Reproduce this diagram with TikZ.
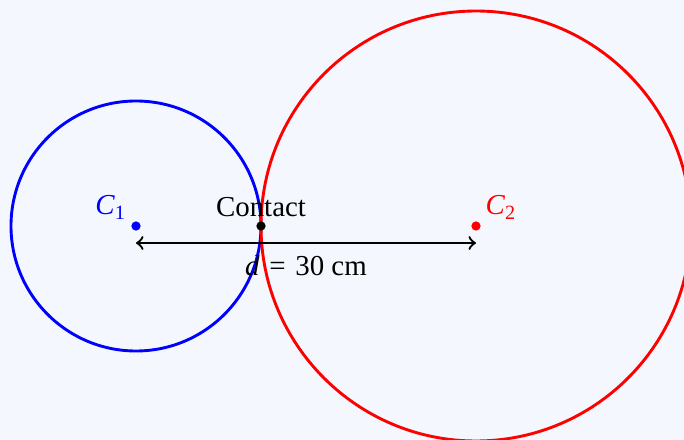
\documentclass[tikz,border=0pt]{standalone}
\usepackage{fontspec}
\setmainfont{Liberation Serif}
\usetikzlibrary{positioning,calc}
\definecolor{bgpaper}{HTML}{F4F8FE}

\begin{document}
\begin{tikzpicture}[x=0.346pt, y=0.346pt,
  dot/.style={circle, fill, inner sep=0pt, minimum size=3.2pt}]
  % background and frame
  \fill[bgpaper] (0,0) rectangle (684,440);
  \useasboundingbox (0,0) rectangle (684,440);
  \clip (0,0) rectangle (684,440);
  % the two circles
  \coordinate (o1) at (136,214);
  \coordinate (o2) at (476,214);
  \draw[line width=1pt, blue] (o1) circle (125);
  \draw[line width=1pt, red]  (o2) circle (215);
  % centres and contact point
  \node[dot, blue] (c1) at (o1) {};
  \node[dot, red]  (c2) at (o2) {};
  \node[dot]       (contact) at (261,214) {};
  % labels
  \node[blue, above left=-2.4pt and -1.5pt of c1] {\textit{C}\textsubscript{1}};
  \node[red, above right=-2.4pt and -1.5pt of c2] {\textit{C}\textsubscript{2}};
  \node[above=-2pt of contact] {Contact};
  % distance between centres
  \coordinate (a1) at ($(c1.center)+(0,-17)$);
  \coordinate (a2) at ($(c2.center)+(0,-17)$);
  \draw[thick, <->] (a1) -- (a2) node[midway, below=0.5pt] {\textit{d}\,\,=\,\,30 cm};
\end{tikzpicture}
\end{document}
